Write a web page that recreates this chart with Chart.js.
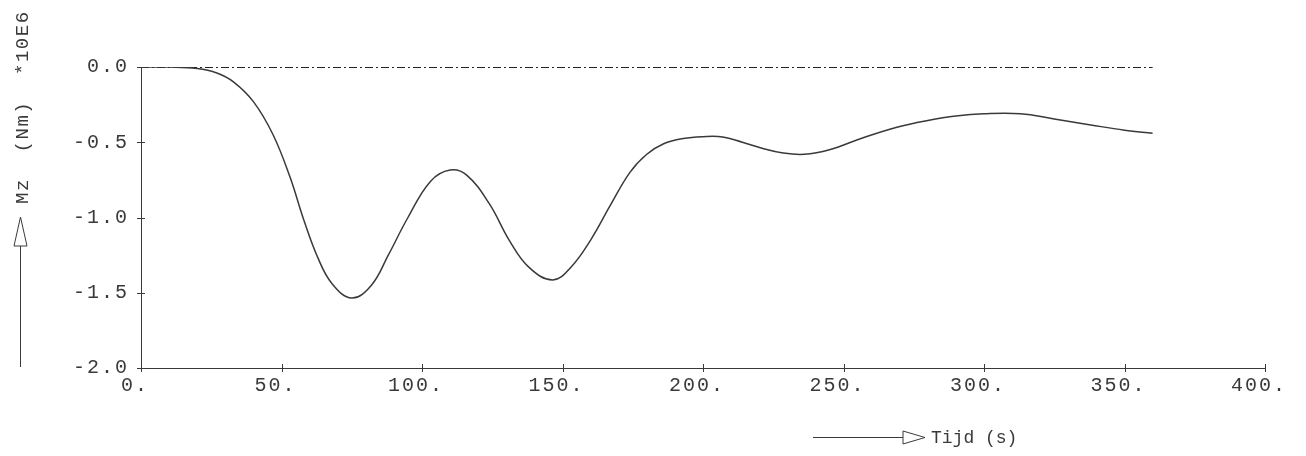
<!DOCTYPE html>
<html>
<head>
<meta charset="utf-8">
<script src="https://cdn.jsdelivr.net/npm/chart.js@4"></script>
<style>
  html, body { margin: 0; padding: 0; background: white; }
  #wrap { width: 1306px; height: 456px; }
</style>
</head>
<body>
<div id="wrap"><canvas id="mzChart" width="1306" height="456"></canvas></div>
<script>
// Data: time (s) and Mz (Nm * 10E6)
const timeValues = [0, 10, 20, 27, 33, 40, 47, 53, 58, 63, 68, 75, 82, 88, 95, 103, 110, 116, 124, 131, 138, 146.5, 153, 160, 167, 174, 180, 186, 193, 200, 207, 214, 221, 228, 236, 245, 257, 269, 280, 290, 300, 313, 325, 338, 350, 360]
const momentValues = [0, 0, -0.01, -0.04, -0.10, -0.23, -0.45, -0.73, -1.02, -1.27, -1.44, -1.535, -1.45, -1.25, -1.0, -0.76, -0.685, -0.72, -0.91, -1.15, -1.33, -1.415, -1.33, -1.15, -0.92, -0.70, -0.58, -0.51, -0.475, -0.463, -0.465, -0.50, -0.54, -0.57, -0.58, -0.55, -0.47, -0.40, -0.355, -0.325, -0.31, -0.31, -0.345, -0.385, -0.42, -0.44]

// reference line at zero
const zeroLineX = [0, 360]
const zeroLineY = [0, 0]

// tick values
const xTicks = [0, 50, 100, 150, 200, 250, 300, 350, 400]
const yTicks = [-2.0, -1.5, -1.0, -0.5, 0.0]

const xTitle = 'Tijd (s)'
const yTitle = 'Mz  (Nm)  *10E6'

const ink = '#3a3a3a'
const monoFont = "'Liberation Mono', 'DejaVu Sans Mono', monospace"

function toPoints(xs, ys) {
  let pts = []
  for (let i = 0; i < xs.length; i++) {
    pts.push({x: xs[i], y: ys[i]})
  }
  return pts
}

// plotter style: letter spacing, "+" tick marks crossing the axes, arrow titles
const plotterPlugin = {
  id: 'plotter',
  beforeDraw(chart) {
    chart.ctx.letterSpacing = '2px'
  },
  afterDraw(chart) {
    const ctx = chart.ctx
    const area = chart.chartArea
    const xs = chart.scales.x
    const ys = chart.scales.y
    ctx.save()
    ctx.strokeStyle = ink
    ctx.lineWidth = 1

    // tick crosses
    ctx.beginPath()
    xTicks.forEach(v => {
      const px = Math.round(xs.getPixelForValue(v)) + 0.5
      ctx.moveTo(px, area.bottom - 4)
      ctx.lineTo(px, area.bottom + 4)
    })
    yTicks.forEach(v => {
      const py = Math.round(ys.getPixelForValue(v)) + 0.5
      ctx.moveTo(area.left - 4, py)
      ctx.lineTo(area.left + 4, py)
    })
    ctx.stroke()

    // y title with upward arrow
    ctx.beginPath()
    ctx.moveTo(20.5, 367)
    ctx.lineTo(20.5, 246)
    ctx.stroke()
    ctx.beginPath()
    ctx.moveTo(14, 246)
    ctx.lineTo(27, 246)
    ctx.lineTo(20.5, 217)
    ctx.closePath()
    ctx.stroke()

    ctx.fillStyle = ink
    ctx.letterSpacing = '1.5px'
    ctx.font = "19px " + monoFont
    ctx.save()
    ctx.translate(23, 204)
    ctx.rotate(-Math.PI / 2)
    ctx.textAlign = 'left'
    ctx.textBaseline = 'middle'
    ctx.fillText(yTitle, 0, 0)
    ctx.restore()

    // x title with arrow to the right
    ctx.beginPath()
    ctx.moveTo(813, 437.5)
    ctx.lineTo(903, 437.5)
    ctx.stroke()
    ctx.beginPath()
    ctx.moveTo(903, 431)
    ctx.lineTo(925, 437.5)
    ctx.lineTo(903, 444)
    ctx.closePath()
    ctx.stroke()

    ctx.letterSpacing = '0px'
    ctx.font = "18px " + monoFont
    ctx.textAlign = 'left'
    ctx.textBaseline = 'middle'
    ctx.fillText(xTitle, 931, 438)
    ctx.restore()
  }
}

const chartConfig = {
  type: 'line',
  data: {
    datasets: [
      {
        label: 'Mz',
        data: toPoints(timeValues, momentValues),
        borderColor: ink,
        borderWidth: 1.5,
        pointRadius: 0,
        fill: false,
        tension: 0.4
      },
      {
        label: 'nul',
        data: toPoints(zeroLineX, zeroLineY),
        borderColor: '#222',
        borderWidth: 2,
        borderDash: [8, 3, 2, 3],
        pointRadius: 0,
        fill: false
      }
    ]
  },
  options: {
    responsive: false,
    animation: false,
    layout: {
      padding: {left: 0, top: 67, right: 41, bottom: 58}
    },
    plugins: {
      legend: { display: false },
      tooltip: { enabled: false }
    },
    scales: {
      x: {
        type: 'linear',
        min: 0,
        max: 400,
        afterBuildTicks(scale) {
          scale.ticks = xTicks.map(v => ({value: v}))
        },
        afterFit(scale) {
          scale.height = 30
        },
        grid: { display: false, drawTicks: false },
        border: { display: true, color: ink, width: 1 },
        ticks: {
          color: ink,
          font: { family: monoFont, size: 20 },
          padding: 6,
          labelOffset: -6,
          maxRotation: 0,
          autoSkip: false,
          callback: function(value) {
            return value + '.'
          }
        }
      },
      y: {
        type: 'linear',
        min: -2,
        max: 0,
        afterBuildTicks(scale) {
          scale.ticks = yTicks.map(v => ({value: v}))
        },
        afterFit(scale) {
          scale.width = 141
        },
        grid: { display: false, drawTicks: false },
        border: { display: true, color: ink, width: 1 },
        ticks: {
          color: ink,
          font: { family: monoFont, size: 20 },
          padding: 12,
          autoSkip: false,
          callback: function(value) {
            return value.toFixed(1)
          }
        }
      }
    }
  },
  plugins: [plotterPlugin]
}

const mzChart = new Chart(document.getElementById('mzChart'), chartConfig)
</script>
</body>
</html>
